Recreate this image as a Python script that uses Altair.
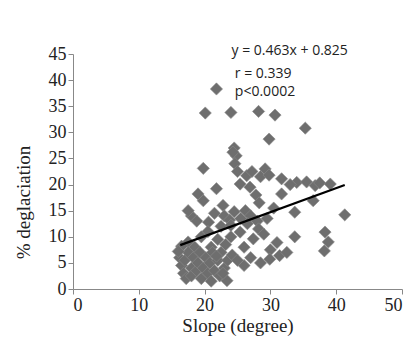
import altair as alt
import pandas as pd

# scatter data: slope (degree) vs % deglaciation
slope = [21.8, 20.1, 24.0, 28.2, 30.7, 35.3, 29.8, 19.8,
         24.5, 24.8, 24.6, 25.0, 24.3,
         29.2, 28.5, 29.8, 26.4, 27.2, 25.4, 26.9, 31.7, 34.0, 35.5, 36.8, 37.5, 39.1,
         31.7, 36.5, 19.0, 19.8, 21.8, 22.8, 27.8, 28.3, 33.0,
         18.0, 18.8, 17.5, 20.6, 21.5, 23.0, 23.8, 24.5, 25.5, 26.2, 27.0, 26.5, 22.5,
         24.0, 33.7, 29.5, 41.3, 30.5, 28.0,
         25.4, 27.4, 31.0, 28.2, 33.7, 38.3, 38.8, 38.2, 29.0, 24.0, 22.0, 23.2, 26.0,
         30.0, 20.5, 19.5, 17.5, 18.5, 21.0, 16.5,
         16.2, 16.5, 16.8, 17.2, 17.0, 17.5, 18.0, 18.3, 18.0, 18.8, 19.0, 19.3, 19.5,
         19.8, 20.2, 20.5, 20.8, 21.0, 21.2, 21.5, 22.0, 22.3, 22.5, 23.0, 23.4, 23.5,
         24.2, 16.0, 22.8, 21.8,
         29.9, 31.4, 28.5, 32.5, 27.0, 26.0, 25.0]
deglac = [38.3, 33.7, 33.8, 34.0, 33.3, 30.8, 28.7, 23.1,
          27.0, 25.5, 24.0, 22.5, 26.2,
          23.0, 21.5, 21.8, 21.7, 22.5, 20.1, 19.5, 21.1, 20.4, 20.5, 19.8, 20.3, 20.1,
          18.2, 16.9, 18.2, 16.9, 19.2, 16.0, 18.0, 16.5, 20.0,
          14.0, 13.0, 15.0, 12.8, 14.5, 14.0, 13.2, 14.8, 13.5, 15.0, 14.0, 12.5, 12.0,
          12.2, 14.7, 13.5, 14.2, 15.5, 13.0,
          10.9, 9.6, 8.9, 11.5, 10.0, 10.9, 9.0, 7.3, 10.5, 10.0, 9.5, 8.5, 8.0,
          7.5, 11.0, 10.0, 9.0, 8.0, 8.0, 8.2,
          6.0, 4.5, 3.0, 2.0, 5.5, 7.0, 4.0, 6.0, 2.5, 3.5, 5.0, 7.0, 2.0,
          4.0, 6.0, 3.0, 5.0, 1.5, 7.0, 3.5, 5.5, 2.5, 7.0, 4.0, 1.6, 5.5,
          6.5, 7.2, 3.0, 6.3,
          5.7, 6.4, 5.0, 7.0, 6.0, 4.5, 5.5]

# regression line endpoints (as drawn)
line_x = [16.3, 41.3]
line_y = [8.4, 19.9]

# annotations
ann_text = ["y = 0.463x + 0.825", "r = 0.339", "p<0.0002"]
ann_x = [24.1, 24.6, 24.6]
ann_y = [45.6, 41.2, 37.7]

x_ticks = [0, 10, 20, 30, 40, 50]
y_ticks = [0, 5, 10, 15, 20, 25, 30, 35, 40, 45]

pts = pd.DataFrame({"slope": slope, "deglac": deglac})
ln = pd.DataFrame({"slope": line_x, "deglac": line_y})
ann = pd.DataFrame({"t": ann_text, "x": ann_x, "y": ann_y})

xs = alt.Scale(domain=[0, 50], nice=False, zero=False)
ys = alt.Scale(domain=[0, 45], nice=False, zero=False)

serif = "Liberation Serif"

xaxis = alt.Axis(values=x_ticks, title="Slope (degree)", grid=False,
                 labelFont=serif, labelFontSize=18, labelColor="#222",
                 labelOverlap=False,
                 titleFont=serif, titleFontSize=19, titleFontWeight="normal",
                 titleColor="#222", domainColor="#888", tickColor="#888",
                 tickSize=5, labelPadding=2, titlePadding=2)
yaxis = alt.Axis(values=y_ticks, title="% deglaciation", grid=False,
                 labelFont=serif, labelFontSize=18, labelColor="#222",
                 labelOverlap=False,
                 titleFont=serif, titleFontSize=19, titleFontWeight="normal",
                 titleColor="#222", domainColor="#888", tickColor="#888",
                 tickSize=5, labelPadding=2, titleX=-50, titleY=148,
                 titleAngle=-90, titleAlign="center", titleBaseline="middle")

points = alt.Chart(pts).mark_point(
    shape="diamond", filled=True, size=150, color="#6e6e6e", opacity=1,
    stroke="#8a8a8a", strokeWidth=0.6
).encode(
    x=alt.X("slope:Q", scale=xs, axis=xaxis),
    y=alt.Y("deglac:Q", scale=ys, axis=yaxis),
)

line = alt.Chart(ln).mark_line(color="#000000", strokeWidth=2.2).encode(
    x=alt.X("slope:Q", scale=xs, axis=xaxis),
    y=alt.Y("deglac:Q", scale=ys, axis=yaxis),
)

text = alt.Chart(ann).mark_text(
    align="left", baseline="middle", font="Open Sans", fontSize=14,
    color="#222"
).encode(
    x=alt.X("x:Q", scale=xs, axis=xaxis),
    y=alt.Y("y:Q", scale=ys, axis=yaxis),
    text="t:N",
)

chart = alt.layer(points, line, text).properties(
    width=329, height=235,
    autosize=alt.AutoSizeParams(type="none"),
    padding={"left": 73, "top": 54, "right": 15, "bottom": 61},
    background="white",
).configure_view(stroke=None).configure_axis(labelOverlap=False)

chart.save("out.html", embed_options={"renderer": "svg", "actions": False})
